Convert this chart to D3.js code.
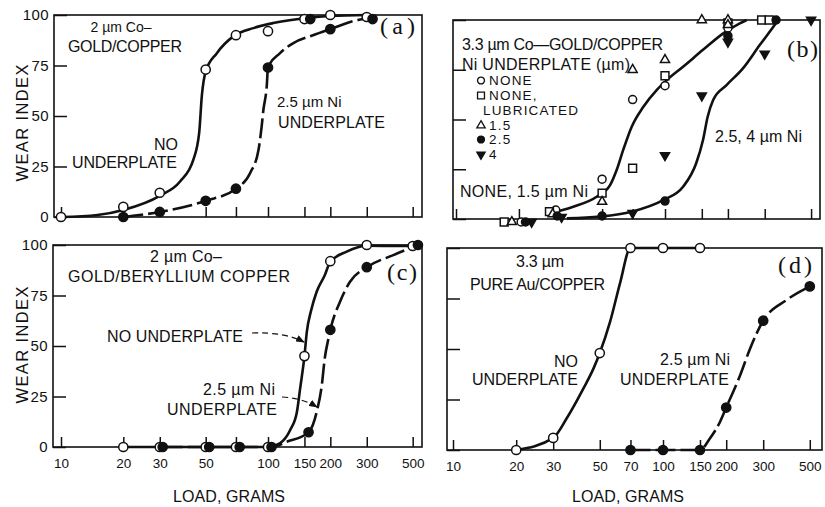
<!DOCTYPE html>
<html>
<head>
<meta charset="utf-8">
<script src="https://cdn.jsdelivr.net/npm/d3@7"></script>
<style>
  body { margin: 0; background: #fff; }
  svg text { font-family: "Liberation Sans", Arial, Helvetica, sans-serif; fill: #111; }
  svg .serif { font-family: "Liberation Serif", "Times New Roman", serif; }
</style>
</head>
<body>
<svg id="chart" width="825" height="507"></svg>
<script>
// ---------- shared axis values ----------
const loadTicks = [10, 20, 30, 50, 70, 100, 150, 200, 300, 500];
const loadLabelsC = [10, 20, 30, 50, 100, 150, 200, 300, 500];
const loadLabelsD = [10, 20, 30, 50, 70, 100, 150, 200, 300, 500];
const wearTicks = [0, 25, 50, 75, 100];

// ---------- (a) 2 um Co-gold / copper ----------
const aNoUnderLoad = [10, 20, 30, 50, 70, 100, 150, 200, 300];
const aNoUnderWear = [0, 5, 12, 73, 90, 92, 98, 100, 99];
const aNiLoad = [20, 30, 50, 70, 100, 160, 200, 320];
const aNiWear = [0, 2.5, 8, 14, 74, 98, 93, 98];
const aNoUnderFitLoad = [10, 15, 20, 30, 37.6, 43.6, 46.5, 47.9, 50, 56.5, 68, 85, 106, 154, 200, 300];
const aNoUnderFitWear = [0, 1, 3.5, 10.5, 17.6, 28.4, 41.6, 60, 72, 81, 89.4, 93.5, 96, 98.5, 99.5, 100];
const aNiFitLoad = [20, 30, 50, 70, 82, 90, 93.2, 95, 98.6, 100, 114, 132, 165, 206, 258, 320];
const aNiFitWear = [0, 2.5, 8, 14, 21.8, 33.3, 44.9, 53, 64.7, 74, 81, 86, 90, 93.5, 97, 98.5];

// ---------- (b) 3.3 um Co-gold / copper, Ni underplate series ----------
const bNoneLoad = [20.5, 30, 50, 70, 100, 200];
const bNoneWear = [-1.5, 4.5, 20, 60, 67, 96];
const bLubLoad = [17, 28, 50, 70, 100, 200, 290, 315];
const bLubWear = [-1.5, 3.7, 13, 25.5, 72, 98.5, 100, 100];
const b15Load = [18.5, 29, 50, 70, 100, 150, 200, 200];
const b15Wear = [-1.5, 2.5, 8.7, 75, 80, 100, 100, 97.5];
const b25Load = [21.5, 30.5, 50, 100, 200, 340];
const b25Wear = [-1.5, 1.5, 1.5, 9, 92, 100];
const b4Load = [23, 32, 70, 100, 150, 200, 300, 500];
const b4Wear = [-1.5, 1, 3, 32, 62, 89, 83, 100];
const bNoneFitLoad = [28.2, 36.4, 47.1, 54.6, 58.7, 63.1, 69.3, 78.8, 91.2, 102, 122, 152, 190, 228, 246];
const bNoneFitWear = [2.9, 6.2, 11.2, 17, 24.6, 34.7, 46.4, 56.4, 64.8, 69.8, 76.5, 85, 93.3, 98.3, 100];
const bNiFitLoad = [33.9, 48.9, 69.3, 98, 122, 141, 152, 160, 170, 197, 236, 284, 330, 348];
const bNiFitWear = [0.3, 1.2, 3.7, 9.5, 16.2, 28, 39.7, 51.4, 59.8, 67.3, 75.7, 87.4, 96.6, 100];
const bLegendNames = ["NONE", "NONE,", "1.5", "2.5", "4"];

// ---------- (c) 2 um Co-gold / beryllium copper ----------
const cNoUnderLoad = [20, 30, 50, 70, 100, 150, 200, 300, 500];
const cNoUnderWear = [0, 0, 0, 0, 0, 45, 92, 100, 99.5];
const cNiLoad = [31, 52, 73, 104, 157, 200, 300, 530];
const cNiWear = [0, 0, 0, 0, 7.3, 58, 89, 100];
const cNoUnderFitLoad = [20, 100, 114, 128, 138, 143, 150, 154, 161, 172, 188, 200, 240, 300, 500];
const cNoUnderFitWear = [0, 0, 1.8, 8.4, 17.5, 29, 45, 57, 67, 77, 85, 91.7, 96.7, 99.6, 99.5];
const cNiFitLoad = [31, 104, 123, 157, 172, 182, 188, 196, 200, 223, 249, 300, 403, 530];
const cNiFitWear = [0, 0, 2.6, 7.3, 17.5, 30.7, 43.9, 53.8, 58, 72, 81.8, 89, 95, 100];

// ---------- (d) 3.3 um pure Au / copper ----------
const dNoUnderLoad = [20, 30, 50, 70, 100, 150];
const dNoUnderWear = [0, 6, 48, 100, 100, 100];
const dNiLoad = [70, 100, 150, 200, 300, 500];
const dNiWear = [0, 0, 0, 21, 64, 81];
const dNoUnderFitLoad = [20, 30, 34.8, 41.8, 46.7, 50, 56, 62.4, 70, 100, 150];
const dNoUnderFitWear = [0, 6, 15.7, 30.5, 40.4, 48, 63.5, 82.5, 100, 100, 100];
const dNiFitLoad = [70, 100, 150, 167.5, 187, 200, 233, 260, 300, 388, 500];
const dNiFitWear = [0, 0, 0, 5.8, 14, 21, 37, 50.3, 64, 74.3, 81];

// ---------- layout ----------
const svg = d3.select("#chart");
const INK = "#111";
const frames = {
  a: { left: 54, right: 422, top: 15, bottom: 217, x10: 61, x100: 268 },
  b: { left: 453, right: 820, top: 20, bottom: 219, x10: 456, x100: 665 },
  c: { left: 53, right: 422, top: 245, bottom: 447, x10: 61, x100: 268 },
  d: { left: 447, right: 822, top: 248, bottom: 450, x10: 453, x100: 663 }
};

const zip = (xs, ys) => xs.map((v, i) => [v, ys[i]]);

const defs = svg.append("defs");
defs.append("marker")
  .attr("id", "arrow")
  .attr("viewBox", "0 0 10 8")
  .attr("refX", 9).attr("refY", 4)
  .attr("markerWidth", 9).attr("markerHeight", 7)
  .attr("markerUnits", "userSpaceOnUse")
  .attr("orient", "auto")
  .append("path").attr("d", "M0,0 L10,4 L0,8 Z").attr("fill", INK);

function makePanel(f, opts) {
  const x = d3.scaleLog().domain([10, 100]).range([f.x10, f.x100]);
  const y = d3.scaleLinear().domain([0, 100]).range([f.bottom, f.top]);
  const g = svg.append("g");

  // x axis (ticks point inward)
  const xa = d3.axisBottom(x).tickValues(loadTicks).tickSize(-10).tickPadding(11)
    .tickFormat(v => opts.xLabels && opts.xLabels.includes(v) ? String(v) : "");
  const gx = g.append("g").attr("transform", `translate(0,${f.bottom})`).call(xa);
  gx.select(".domain").remove();
  gx.attr("font-family", null).attr("font-size", null);
  gx.selectAll("line").attr("stroke", INK).attr("stroke-width", 1.5);
  gx.selectAll("text").attr("font-size", 13.5).attr("fill", INK);

  // y axis
  const ya = d3.axisLeft(y).tickValues(wearTicks).tickSize(-13).tickPadding(5)
    .tickFormat(v => opts.yLabels ? String(v) : "");
  const gy = g.append("g").attr("transform", `translate(${f.left},0)`).call(ya);
  gy.select(".domain").remove();
  gy.attr("font-family", null).attr("font-size", null);
  gy.selectAll("line").attr("stroke", INK).attr("stroke-width", 1.5);
  gy.selectAll("text").attr("font-size", 15).attr("fill", INK).attr("letter-spacing", 0.4);

  // frame
  g.append("rect")
    .attr("x", f.left).attr("y", f.top)
    .attr("width", f.right - f.left).attr("height", f.bottom - f.top)
    .attr("fill", "none").attr("stroke", INK).attr("stroke-width", 1.6);

  return { g, x, y };
}

function fitLine(p, loads, wears, dashed) {
  const line = d3.line().x(d => p.x(d[0])).y(d => p.y(d[1])).curve(d3.curveMonotoneX);
  p.g.append("path")
    .datum(zip(loads, wears))
    .attr("d", line)
    .attr("fill", "none")
    .attr("stroke", INK)
    .attr("stroke-width", 2.6)
    .attr("stroke-dasharray", dashed ? "20,5" : null);
}

const symbolShapes = {
  circle: d3.symbolCircle,
  square: d3.symbolSquare,
  triangle: d3.symbolTriangle,
  triangleDown: d3.symbolTriangle
};

function markers(p, loads, wears, shape, filled, size) {
  const gen = d3.symbol().type(symbolShapes[shape]).size(size);
  p.g.append("g").selectAll("path")
    .data(zip(loads, wears))
    .join("path")
    .attr("d", gen)
    .attr("transform", d => `translate(${p.x(d[0])},${p.y(d[1])})${shape === "triangleDown" ? " rotate(180)" : ""}`)
    .attr("fill", filled ? INK : "#fff")
    .attr("stroke", INK)
    .attr("stroke-width", 1.5);
}

function label(x, y, s, o = {}) {
  const t = svg.append("text")
    .attr("x", x).attr("y", y)
    .attr("font-size", o.size || 16)
    .attr("text-anchor", o.anchor || "start")
    .text(s);
  if (o.width) t.attr("textLength", o.width).attr("lengthAdjust", "spacing");
  if (o.spacing) t.attr("letter-spacing", o.spacing);
  if (o.serif) t.attr("class", "serif");
  return t;
}

function axisTitleY(cx, cy) {
  svg.append("text")
    .attr("transform", `translate(${cx},${cy}) rotate(-90)`)
    .attr("font-size", 16.5)
    .attr("text-anchor", "middle")
    .attr("textLength", 117).attr("lengthAdjust", "spacing")
    .text("WEAR INDEX");
}

const CIRCLE = Math.PI * 4.6 * 4.6;

// ---------- panel (a) ----------
const pa = makePanel(frames.a, { yLabels: true });
fitLine(pa, aNoUnderFitLoad, aNoUnderFitWear, false);
fitLine(pa, aNiFitLoad, aNiFitWear, true);
markers(pa, aNoUnderLoad, aNoUnderWear, "circle", false, CIRCLE);
markers(pa, aNiLoad, aNiWear, "circle", true, CIRCLE);
label(121, 32, "2 µm Co–", { anchor: "middle", size: 14 });
label(68, 52, "GOLD/COPPER", { width: 114 });
label(178, 150, "NO", { anchor: "end" });
label(72, 168, "UNDERPLATE", { width: 105 });
label(277, 107, "2.5 µm Ni", { size: 15 });
label(278, 128, "UNDERPLATE", { width: 107 });
label(380, 34, "(a)", { size: 24, serif: true, width: 35 });
axisTitleY(28, 123);

// ---------- panel (b) ----------
const pb = makePanel(frames.b, {});
fitLine(pb, bNoneFitLoad, bNoneFitWear, false);
fitLine(pb, bNiFitLoad, bNiFitWear, false);
const SQ = 62, TRI = 36;
markers(pb, bNoneLoad, bNoneWear, "circle", false, Math.PI * 16);
markers(pb, bLubLoad, bLubWear, "square", false, SQ);
markers(pb, b15Load, b15Wear, "triangle", false, TRI);
markers(pb, b4Load, b4Wear, "triangleDown", true, TRI);
markers(pb, b25Load, b25Wear, "circle", true, Math.PI * 16);
label(462, 50, "3.3 µm Co—GOLD/COPPER", { width: 201 });
label(462, 70, "Ni UNDERPLATE (µm)", { width: 168 });

// legend of underplate thickness
const legendShapes = ["circle", "square", "triangle", "circle", "triangleDown"];
const legendFilled = [false, false, false, true, true];
const legendSizes = [Math.PI * 12, 48, 30, Math.PI * 12, 30];
const legendBase = [85, 100, 130, 144, 159];
bLegendNames.forEach((name, i) => {
  const gen = d3.symbol().type(symbolShapes[legendShapes[i]]).size(legendSizes[i]);
  svg.append("path")
    .attr("d", gen)
    .attr("transform", `translate(481,${legendBase[i] - 4.5})${legendShapes[i] === "triangleDown" ? " rotate(180)" : ""}`)
    .attr("fill", legendFilled[i] ? INK : "#fff")
    .attr("stroke", INK).attr("stroke-width", 1.3);
  label(489, legendBase[i], name, { size: 13.5, spacing: 1.2 });
});
label(483, 115, "LUBRICATED", { size: 13.5, width: 95 });
label(460, 197, "NONE, 1.5 µm Ni", { width: 128 });
label(715, 142, "2.5, 4 µm Ni", { width: 87 });
label(787, 57, "(b)", { size: 24, serif: true, width: 31 });

// ---------- panel (c) ----------
const pc = makePanel(frames.c, { yLabels: true, xLabels: loadLabelsC });
fitLine(pc, cNoUnderFitLoad, cNoUnderFitWear, false);
fitLine(pc, cNiFitLoad, cNiFitWear, true);
markers(pc, cNoUnderLoad, cNoUnderWear, "circle", false, CIRCLE);
markers(pc, cNiLoad, cNiWear, "circle", true, CIRCLE);
label(150, 262, "2 µm Co–", { width: 72 });
label(68, 282, "GOLD/BERYLLIUM  COPPER", { width: 222 });
label(107, 342, "NO UNDERPLATE", { width: 136 });
label(203, 395, "2.5 µm Ni", { width: 72 });
label(167, 415, "UNDERPLATE", { width: 110 });
label(387, 280, "(c)", { size: 24, serif: true, width: 30 });
axisTitleY(28, 345);
// pointers from the labels to their curves
svg.append("path")
  .attr("d", "M252,333 Q285,332 304,342")
  .attr("fill", "none").attr("stroke", INK).attr("stroke-width", 1.2)
  .attr("stroke-dasharray", "6,4").attr("marker-end", "url(#arrow)");
svg.append("path")
  .attr("d", "M282,397 Q302,398 317,407")
  .attr("fill", "none").attr("stroke", INK).attr("stroke-width", 1.2)
  .attr("stroke-dasharray", "6,4").attr("marker-end", "url(#arrow)");

// ---------- panel (d) ----------
const pd = makePanel(frames.d, { xLabels: loadLabelsD });
fitLine(pd, dNoUnderFitLoad, dNoUnderFitWear, false);
fitLine(pd, dNiFitLoad, dNiFitWear, true);
markers(pd, dNoUnderLoad, dNoUnderWear, "circle", false, CIRCLE);
markers(pd, dNiLoad, dNiWear, "circle", true, CIRCLE);
label(516, 267, "3.3 µm", { width: 48 });
label(470, 290, "PURE Au/COPPER", { width: 135 });
label(578, 367, "NO", { anchor: "end" });
label(472, 385, "UNDERPLATE", { width: 106 });
label(660, 365, "2.5 µm Ni", { width: 70 });
label(620, 385, "UNDERPLATE", { width: 109 });
label(778, 273, "(d)", { size: 24, serif: true, width: 34 });

// ---------- x axis titles ----------
label(229, 502, "LOAD, GRAMS", { anchor: "middle", width: 112 });
label(628, 502, "LOAD, GRAMS", { anchor: "middle", width: 112 });
</script>
</body>
</html>
